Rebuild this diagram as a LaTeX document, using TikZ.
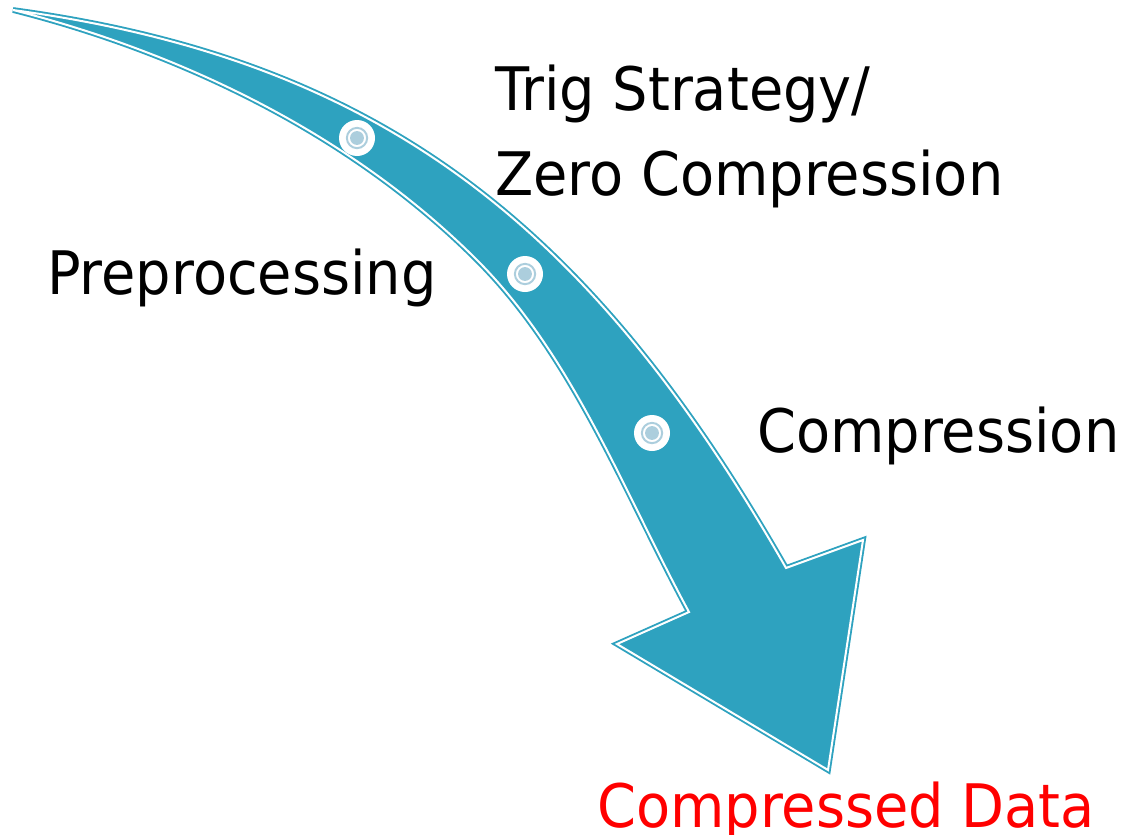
\documentclass[tikz,border=0pt]{standalone}
\usepackage{fontspec}
\newfontfamily\labfont[FakeStretch=0.93]{DejaVu Sans}
\definecolor{arrowteal}{RGB}{46,162,191}
\definecolor{dotblue}{RGB}{172,206,221}
\tikzset{
  arrowbody/.style={fill=arrowteal, draw=arrowteal, line width=1.4pt, double=white, double distance=1.5pt, line join=miter},
  lab/.style={anchor=base west, inner sep=0pt, font=\labfont\fontsize{45}{54}\selectfont},
  dotdisk/.style={circle, fill=white, inner sep=0pt, minimum size=27pt},
}
\begin{document}
\begin{tikzpicture}[x=0.75pt, y=-0.75pt]
\useasboundingbox (0,0) rectangle (1128,835);
% curved arrow
\path[arrowbody] (13,10) .. controls (380,60) and (590,225) .. (786,568)
  -- (863,540) -- (828,770) -- (617,644) -- (689,612)
  .. controls (623,490) and (573,356) .. (477,260)
  .. controls (352,135) and (183,53) .. (13,10)
  -- cycle;
% stage markers
\foreach \n/\p in {d1/{(357,138)}, d2/{(525,274)}, d3/{(652,433)}}{
  \node[dotdisk] (\n) at \p {};
  \draw[dotblue, line width=1.5pt] (\n.center) circle[radius=7.6pt];
  \fill[dotblue] (\n.center) circle[radius=5.2pt];
}
% labels
\node[lab] (pre) at (47,294) {Preprocessing};
\node[lab] (trig) at (495,110) {Trig Strategy/};
\node[lab] (zero) at (495,195) {Zero Compression};
\node[lab] (comp) at (757,452) {Compression};
\node[lab, text=red] (data) at (597,827) {Compressed Data};
\end{tikzpicture}
\end{document}
